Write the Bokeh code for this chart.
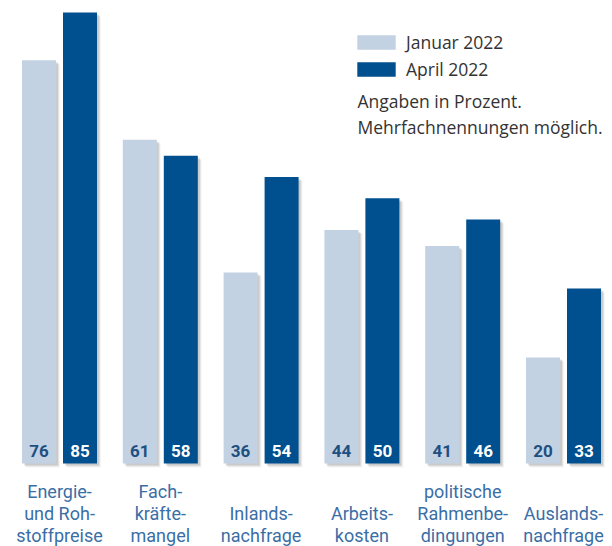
from bokeh.plotting import figure
from bokeh.models import Range1d, ColumnDataSource, Legend, LegendItem, Label
from bokeh.core.properties import value
from bokeh.embed import file_html
from bokeh.resources import INLINE

categories = ["Energie-\nund Roh-\nstoffpreise", "Fach-\nkräfte-\nmangel", "Inlands-\nnachfrage",
              "Arbeits-\nkosten", "politische\nRahmenbe-\ndingungen", "Auslands-\nnachfrage"]
jan_2022 = [76, 61, 36, 44, 41, 20]
apr_2022 = [85, 58, 54, 50, 46, 33]
series_names = ["Januar 2022", "April 2022"]
notes = ["Angaben in Prozent.", "Mehrfachnennungen möglich."]

LIGHT = "#c3d2e3"
DARK = "#004f8e"
W, H = 612, 546
px_per_unit = 5.306
group_px = 100.8
base_from_bottom = 83
first_center = 59

p = figure(width=W, height=H, output_backend="svg", toolbar_location=None,
           x_range=Range1d(-first_center / group_px, (W - first_center) / group_px),
           y_range=Range1d(-base_from_bottom / px_per_unit, (H - base_from_bottom) / px_per_unit),
           min_border=0, outline_line_color=None)
p.axis.visible = False
p.grid.visible = False
p.background_fill_color = "white"
p.border_fill_color = "white"

n = len(categories)
idx = list(range(n))
off = 20.5 / group_px
bw = 34 / group_px
xj = [i - off for i in idx]
xa = [i + off for i in idx]

# soft shadows
for dx, dy, a in [(2, 2, 0.10), (3, 3, 0.07), (4, 4, 0.04)]:
    for xs, vals in ((xj, jan_2022), (xa, apr_2022)):
        p.vbar(x=[x + dx / group_px for x in xs], width=bw,
               top=[v - dy / px_per_unit for v in vals], bottom=-dy / px_per_unit,
               fill_color="black", fill_alpha=a, line_color=None)

rj = p.vbar(x=xj, width=bw, top=jan_2022, bottom=0, fill_color=LIGHT, line_color=None)
ra = p.vbar(x=xa, width=bw, top=apr_2022, bottom=0, fill_color=DARK, line_color=None)

p.text(x=xj, y=[0] * n, text=[str(v) for v in jan_2022], y_offset=-13,
       text_align="center", text_baseline="middle", text_color="#1f4f80",
       text_font=value("Roboto"), text_font_style="bold", text_font_size="17px")
p.text(x=xa, y=[0] * n, text=[str(v) for v in apr_2022], y_offset=-13,
       text_align="center", text_baseline="middle", text_color="white",
       text_font=value("Roboto"), text_font_style="bold", text_font_size="17px")

# category labels, bottom-aligned in three rows
lx, ly, lt = [], [], []
for i, c in enumerate(categories):
    lines = c.split("\n")
    pad = 3 - len(lines)
    for j, line in enumerate(lines):
        lx.append(i)
        ly.append(-(28 + 22 * (pad + j)) / px_per_unit)
        lt.append(line)
p.text(x=lx, y=ly, text=lt, text_align="center", text_baseline="middle",
       text_color="#3a6ea6", text_font=value("Roboto"), text_font_size="18px")

legend = Legend(items=[LegendItem(label=series_names[0], renderers=[rj]),
                       LegendItem(label=series_names[1], renderers=[ra])],
                location=(352, 465), orientation="vertical",
                glyph_width=48, glyph_height=18, label_height=18, spacing=3,
                padding=0, margin=0, border_line_color=None, background_fill_alpha=0,
                label_text_font="Open Sans", label_text_font_size="17.5px",
                label_text_color="#333333", label_standoff=6)
p.add_layout(legend)

for k, t in enumerate(notes):
    p.add_layout(Label(x=357, y=H - 100 - 26 * k, x_units="screen", y_units="screen",
                       text=t, text_font="Open Sans", text_font_size="17.5px",
                       text_color="#333333", text_baseline="middle"))

open("out.html", "w").write(file_html(p, INLINE))
